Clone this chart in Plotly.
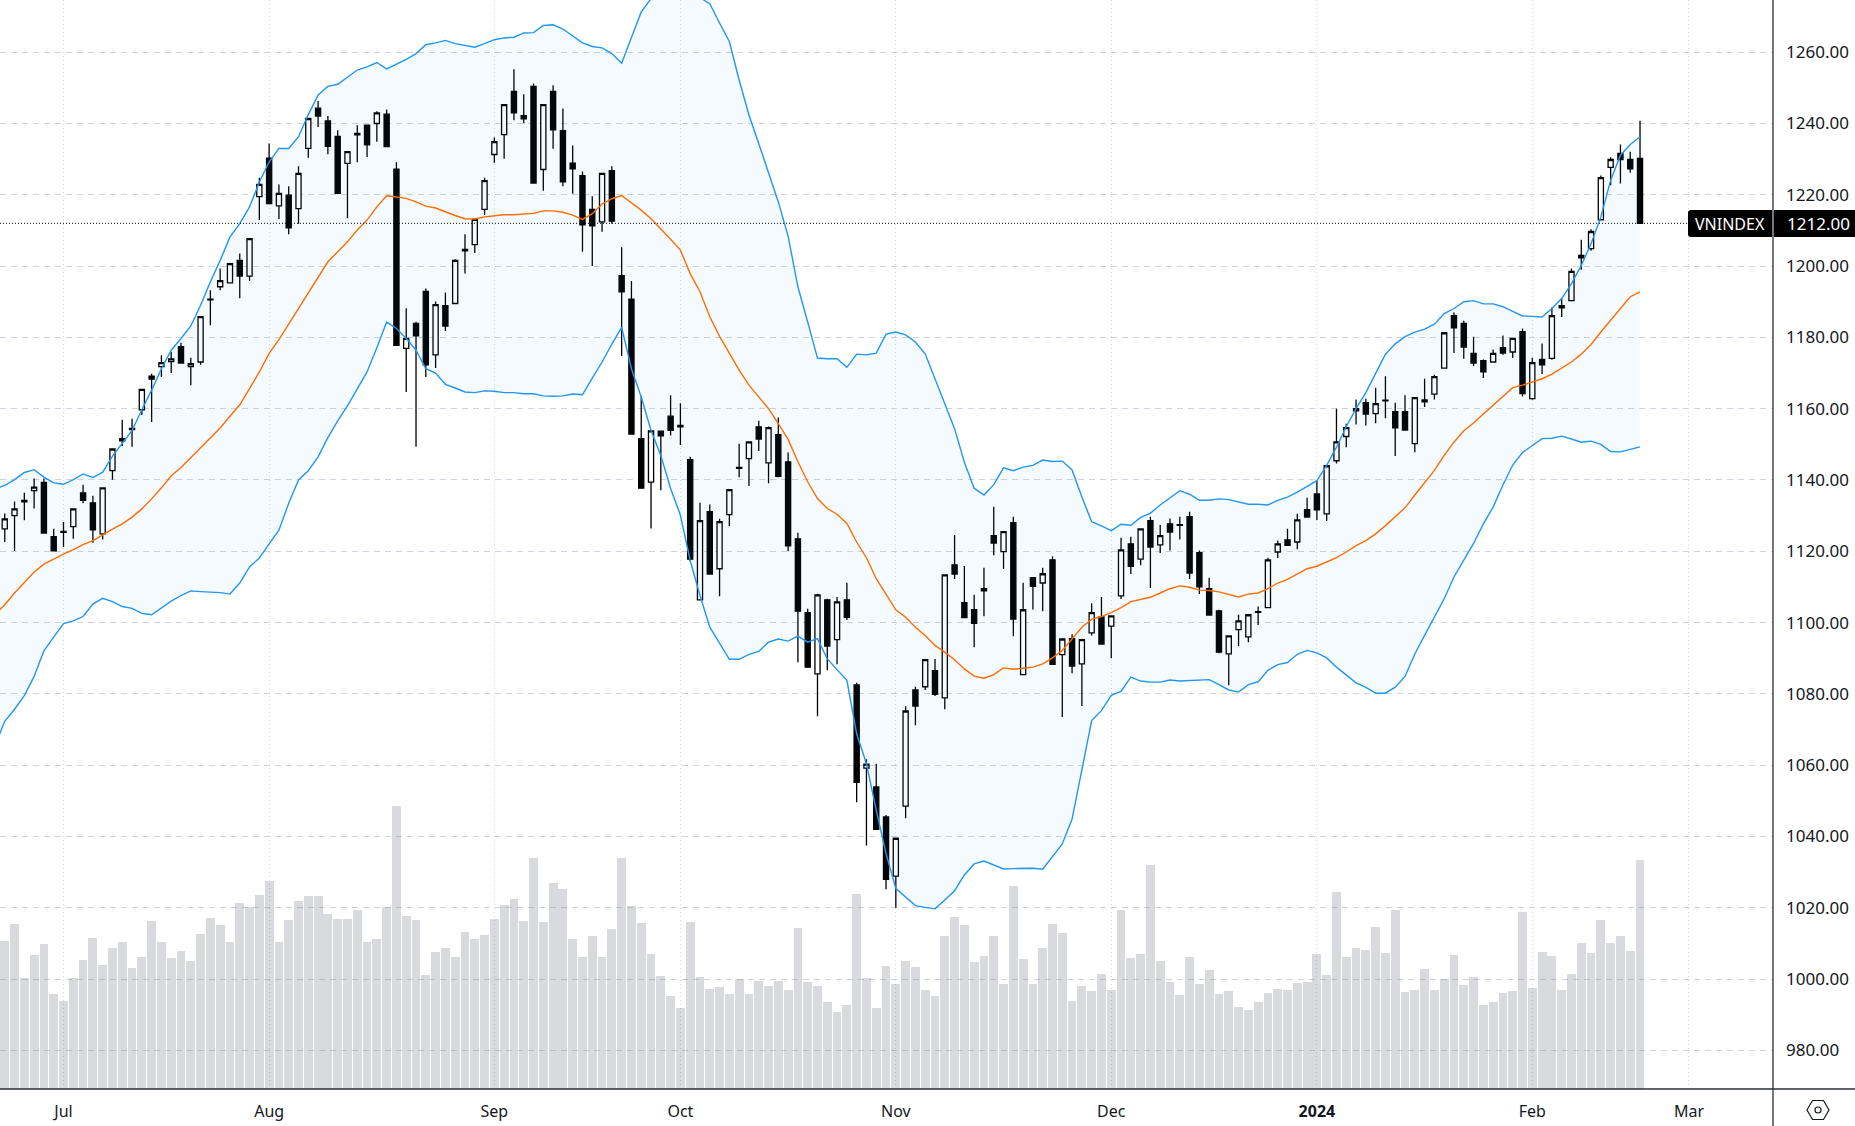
import plotly.graph_objects as go

# trading-session index (0 = first session of July 2023), first visible session is -6
sessions = list(range(-6, 162))
band_sessions = list(range(-7, 162))

opens = [
 1126.3,1130.0,1134.3,1137.0,1139.3,1124.1,1125.3,1126.9,1136.4,1133.6,
 1124.9,1142.6,1151.0,1154.5,1159.7,1169.1,1171.8,1173.2,1177.4,1171.8,
 1173.1,1190.5,1194.2,1195.3,1201.6,1197.2,1219.5,1230.3,1216.9,1219.9,
 1216.1,1233.0,1244.3,1240.7,1236.4,1228.8,1237.2,1239.5,1240.0,1242.6,
 1227.2,1176.9,1183.9,1192.9,1175.1,1188.9,1189.5,1204.7,1206.0,1215.9,
 1231.3,1236.9,1249.0,1242.2,1250.4,1227.1,1249.0,1238.0,1228.9,1225.4,
 1215.9,1212.4,1226.8,1197.3,1190.7,1151.6,1139.4,1153.7,1157.9,1155.3,
 1145.7,1106.4,1131.1,1115.1,1130.3,1143.3,1146.0,1154.9,1144.8,1152.7,
 1145.1,1123.5,1102.8,1085.6,1106.4,1095.2,1106.4,1082.5,1059.2,1053.9,
 1045.5,1028.9,1048.5,1081.1,1082.0,1086.5,1078.9,1116.2,1105.6,1103.6,
 1108.9,1124.4,1119.9,1128.0,1085.4,1112.6,1111.1,1117.6,1091.0,1095.5,
 1088.4,1097.1,1101.6,1099.0,1107.5,1122.1,1117.8,1128.6,1121.8,1127.7,
 1127.3,1129.7,1119.6,1109.5,1103.3,1091.2,1098.0,1096.0,1102.9,1104.2,
 1119.8,1123.2,1122.6,1131.7,1136.1,1130.5,1145.4,1152.2,1159.4,1161.7,
 1158.6,1162.2,1159.2,1159.2,1150.2,1161.9,1164.1,1171.4,1186.1,1183.9,
 1175.5,1173.5,1173.1,1177.1,1175.9,1181.6,1162.8,1173.8,1174.1,1188.9,
 1190.3,1203.0,1204.9,1213.0,1227.7,1231.6,1229.9,1230.2]
highs = [
 1130.6,1134.0,1136.4,1140.4,1140.4,1126.3,1128.2,1131.9,1138.7,1135.6,
 1137.8,1148.7,1156.9,1157.2,1165.4,1169.8,1175.0,1175.9,1178.5,1174.3,
 1185.8,1193.2,1199.3,1200.7,1203.5,1207.7,1224.8,1234.4,1222.9,1222.4,
 1228.0,1241.4,1246.3,1242.1,1238.1,1232.1,1239.5,1239.5,1243.4,1243.9,
 1229.1,1188.2,1184.4,1193.7,1190.1,1192.6,1201.9,1208.9,1213.4,1224.8,
 1236.1,1245.3,1255.2,1248.2,1251.2,1245.3,1250.7,1244.2,1233.8,1226.5,
 1219.6,1226.0,1228.0,1205.3,1195.8,1163.4,1153.8,1153.9,1163.8,1161.5,
 1146.5,1133.6,1133.1,1129.1,1137.3,1150.2,1150.7,1156.6,1155.0,1157.5,
 1147.7,1125.2,1103.9,1108.1,1106.7,1107.2,1111.2,1083.1,1061.7,1060.4,
 1046.0,1039.5,1076.5,1082.0,1089.6,1089.8,1113.4,1124.6,1115.9,1107.8,
 1115.4,1132.5,1125.5,1129.7,1111.2,1112.6,1115.4,1118.6,1095.4,1096.7,
 1095.2,1105.4,1107.2,1102.0,1123.8,1124.1,1126.3,1129.7,1127.4,1129.2,
 1129.7,1131.1,1120.2,1112.6,1103.6,1096.3,1102.2,1102.2,1104.5,1118.2,
 1123.0,1126.3,1130.5,1135.0,1139.8,1144.0,1160.0,1155.8,1162.6,1162.8,
 1165.9,1169.1,1161.7,1163.8,1163.1,1168.4,1169.5,1181.3,1187.0,1184.7,
 1180.2,1173.8,1176.6,1180.5,1179.9,1182.5,1174.3,1178.3,1188.4,1190.9,
 1199.3,1207.4,1210.3,1225.4,1230.5,1234.1,1232.1,1240.8]
lows = [
 1122.6,1120.1,1128.7,1132.0,1125.0,1120.0,1121.2,1123.5,1133.5,1122.4,
 1123.3,1140.1,1149.5,1149.3,1158.2,1156.3,1168.9,1170.0,1172.8,1166.6,
 1172.3,1183.4,1193.2,1195.3,1191.0,1195.8,1212.9,1217.5,1213.2,1208.9,
 1211.9,1230.4,1239.0,1231.4,1220.4,1213.4,1229.1,1230.6,1234.9,1233.5,
 1177.8,1164.7,1149.3,1168.9,1171.4,1181.8,1189.5,1197.9,1203.7,1214.3,
 1229.0,1230.1,1240.9,1240.1,1223.3,1221.1,1232.9,1222.4,1220.3,1204.0,
 1200.0,1209.6,1211.9,1174.8,1152.9,1137.7,1126.4,1137.1,1152.5,1149.8,
 1117.2,1106.4,1113.6,1107.4,1127.1,1140.8,1138.3,1148.1,1139.1,1140.8,
 1120.0,1088.9,1087.5,1073.7,1086.6,1088.3,1100.7,1049.6,1037.5,1042.0,
 1025.2,1020.0,1045.1,1071.2,1081.1,1079.4,1075.7,1112.2,1101.2,1093.1,
 1101.8,1118.9,1115.0,1096.2,1085.4,1103.7,1103.2,1088.3,1073.5,1085.8,
 1076.6,1096.4,1094.0,1090.0,1106.6,1113.6,1116.1,1109.7,1119.5,1120.2,
 1123.3,1112.2,1108.0,1102.1,1091.4,1082.4,1093.4,1094.5,1099.3,1104.2,
 1118.1,1121.7,1120.6,1129.6,1128.8,1128.5,1144.6,1149.2,1155.6,1155.3,
 1155.9,1157.3,1146.7,1154.0,1147.8,1160.5,1162.6,1171.4,1175.6,1174.0,
 1172.0,1168.6,1173.1,1175.1,1174.2,1163.4,1162.5,1169.7,1173.7,1185.7,
 1190.3,1199.0,1204.3,1213.0,1222.7,1223.2,1226.2,1212.0]
closes = [
 1129.1,1131.9,1133.9,1138.0,1125.1,1120.1,1125.6,1131.9,1134.3,1126.0,
 1137.8,1148.7,1151.6,1154.1,1165.4,1168.3,1172.9,1174.0,1172.8,1172.6,
 1185.8,1190.7,1195.9,1200.7,1197.2,1207.7,1222.9,1217.5,1220.4,1210.7,
 1226.0,1241.4,1242.1,1233.6,1220.4,1232.1,1236.8,1234.0,1243.0,1233.5,
 1177.8,1179.7,1180.4,1172.3,1189.2,1183.2,1201.6,1204.3,1213.1,1224.0,
 1234.9,1245.3,1243.0,1241.3,1223.3,1245.3,1238.2,1223.6,1227.3,1211.6,
 1211.3,1226.0,1212.6,1192.8,1152.9,1137.7,1153.8,1152.4,1153.9,1154.9,
 1117.8,1128.6,1113.6,1128.3,1137.3,1143.5,1150.7,1151.5,1154.7,1141.0,
 1121.5,1103.2,1087.5,1107.8,1093.4,1105.8,1101.5,1055.2,1060.3,1042.0,
 1028.0,1039.5,1075.2,1076.6,1089.6,1079.9,1113.4,1113.6,1101.4,1099.8,
 1109.5,1122.3,1125.5,1101.0,1103.6,1110.2,1113.7,1088.3,1095.4,1087.8,
 1095.2,1102.8,1094.0,1101.9,1120.4,1115.8,1126.3,1121.2,1124.4,1125.4,
 1127.5,1113.9,1110.0,1102.1,1091.7,1096.3,1100.5,1102.2,1103.1,1117.6,
 1122.1,1121.7,1128.8,1129.6,1131.6,1144.0,1150.7,1154.7,1160.0,1158.5,
 1161.4,1162.4,1154.6,1154.0,1163.1,1162.5,1169.0,1181.3,1182.7,1177.3,
 1172.8,1170.3,1175.5,1175.6,1179.7,1164.2,1172.9,1172.3,1186.1,1188.3,
 1198.5,1202.3,1209.7,1224.8,1229.9,1229.9,1227.3,1212.0]
volumes = [
 445,496,333,403,436,286,265,333,388,454,
 373,424,442,364,397,505,442,394,415,385,
 466,514,493,442,559,546,583,625,442,508,
 565,580,580,526,511,511,538,442,451,547,
 850,520,508,343,412,424,397,472,451,463,
 511,553,571,505,694,502,619,601,451,397,
 460,397,481,694,550,499,406,340,280,244,
 502,337,301,307,286,331,286,325,310,325,
 298,484,322,310,262,232,253,586,334,244,
 370,316,385,367,298,280,460,517,493,382,
 400,460,316,610,391,316,424,496,469,265,
 310,295,346,298,538,394,406,673,385,322,
 283,397,316,358,286,295,247,238,262,289,
 301,298,319,322,406,343,592,397,424,418,
 487,409,538,292,298,361,298,331,403,313,
 337,253,262,289,295,532,304,412,400,298,
 346,439,409,508,439,460,415,688]
band_upper = [
 1137.5,1138.5,1140.1,1142.1,1142.9,1140.8,1139.2,1138.8,1140.1,1141.7,
 1140.7,1142.2,1146.7,1150.2,1153.9,1159.7,1165.2,1171.2,1176.4,1179.7,
 1183.2,1189.0,1195.6,1201.6,1208.2,1211.9,1216.6,1223.6,1229.2,1233.0,
 1233.0,1236.3,1242.5,1248.0,1250.4,1251.0,1252.9,1255.0,1255.9,1257.1,
 1255.3,1256.6,1258.0,1259.6,1262.1,1262.6,1263.3,1262.4,1261.8,1261.4,
 1262.4,1263.5,1264.0,1264.2,1265.4,1265.5,1267.5,1267.7,1266.5,1264.6,
 1262.6,1261.6,1261.2,1259.6,1256.9,1264.1,1271.3,1275.0,1277.0,1278.0,
 1278.0,1277.0,1275.2,1273.6,1268.2,1263.0,1252.2,1242.4,1234.4,1226.4,
 1218.0,1208.4,1194.2,1184.3,1174.2,1174.0,1174.0,1171.6,1175.3,1175.1,
 1175.6,1180.9,1181.5,1180.7,1178.7,1175.4,1168.4,1161.4,1154.4,1145.0,
 1137.7,1135.8,1138.7,1143.4,1142.6,1143.6,1144.1,1145.6,1145.2,1145.3,
 1142.8,1135.2,1128.3,1127.1,1125.8,1127.6,1127.3,1129.5,1130.7,1133.0,
 1135.0,1137.0,1136.0,1134.3,1134.3,1134.7,1134.5,1133.9,1133.2,1133.2,
 1133.0,1134.3,1135.2,1136.6,1138.2,1139.8,1144.1,1149.2,1155.0,1160.0,
 1164.5,1170.1,1175.3,1178.2,1180.2,1181.5,1182.3,1183.7,1186.7,1188.1,
 1190.0,1190.3,1189.4,1189.4,1188.6,1187.3,1186.0,1185.9,1185.7,1188.1,
 1190.9,1195.1,1200.2,1206.3,1213.8,1224.1,1231.1,1234.1,1236.3]
band_middle = [
 1102.2,1105.0,1108.3,1111.4,1114.2,1116.4,1117.9,1119.2,1120.5,1121.9,
 1123.0,1124.7,1126.2,1127.7,1129.6,1131.9,1134.7,1137.8,1141.2,1143.5,
 1146.3,1149.0,1151.8,1154.6,1157.9,1161.1,1165.6,1170.3,1175.5,1179.4,
 1183.7,1188.1,1192.3,1197.0,1201.2,1204.0,1206.8,1210.1,1212.9,1216.6,
 1219.7,1219.4,1219.0,1218.0,1216.8,1216.3,1215.2,1214.2,1213.3,1213.2,
 1213.8,1214.2,1214.4,1214.4,1214.6,1214.8,1215.5,1215.5,1215.1,1214.3,
 1213.1,1214.7,1217.4,1218.9,1219.8,1217.8,1215.7,1213.3,1210.5,1207.5,
 1204.5,1197.9,1192.8,1185.8,1180.3,1175.5,1170.8,1166.6,1163.3,1160.0,
 1155.8,1151.4,1145.1,1139.5,1134.8,1132.0,1130.4,1127.8,1122.6,1118.2,
 1112.3,1107.8,1103.6,1101.5,1098.7,1096.4,1093.6,1091.7,1089.6,1087.0,
 1085.0,1084.4,1085.4,1087.3,1086.9,1087.2,1087.5,1088.4,1090.1,1092.2,
 1095.5,1098.7,1100.9,1101.7,1102.8,1104.2,1105.9,1106.5,1107.1,1108.3,
 1109.5,1110.3,1109.9,1109.1,1109.0,1108.6,1107.8,1107.2,1108.0,1108.3,
 1109.5,1111.1,1112.1,1113.7,1115.1,1115.8,1117.0,1118.2,1119.8,1121.6,
 1123.0,1124.9,1127.2,1129.6,1132.2,1135.8,1139.4,1142.7,1146.9,1150.6,
 1153.8,1156.0,1158.5,1160.9,1163.5,1165.9,1166.6,1167.5,1168.4,1169.7,
 1171.4,1173.1,1175.3,1178.0,1181.5,1184.8,1188.1,1191.4,1192.8]
band_lower = [
 1065.5,1072.3,1075.7,1079.5,1084.9,1092.1,1095.9,1099.7,1100.5,1101.7,
 1105.2,1106.8,1105.9,1104.5,1104.0,1102.6,1102.2,1104.1,1106.0,1107.6,
 1108.9,1108.7,1108.6,1108.4,1108.0,1111.1,1115.6,1118.1,1122.1,1125.9,
 1133.5,1140.0,1142.6,1146.5,1151.9,1156.6,1160.8,1165.6,1170.3,1177.1,
 1184.3,1182.5,1179.7,1176.4,1171.2,1170.0,1166.8,1165.8,1164.7,1164.5,
 1165.0,1164.9,1164.5,1164.5,1164.2,1164.2,1163.6,1163.5,1163.6,1164.1,
 1163.9,1168.6,1173.1,1178.1,1182.8,1171.2,1163.3,1153.9,1146.9,1137.6,
 1130.1,1117.4,1107.6,1098.7,1094.0,1089.7,1089.7,1091.1,1091.9,1094.5,
 1095.4,1094.8,1096.2,1094.5,1095.5,1089.8,1086.8,1083.8,1068.8,1060.4,
 1047.3,1035.2,1025.4,1023.0,1020.6,1020.1,1019.7,1022.2,1024.8,1029.2,
 1032.3,1033.1,1032.0,1030.9,1031.0,1031.1,1031.1,1030.8,1034.2,1037.9,
 1044.9,1058.5,1072.5,1075.3,1079.6,1080.7,1084.7,1083.6,1083.3,1083.3,
 1083.9,1083.6,1083.8,1084.0,1084.0,1082.6,1081.1,1080.5,1082.6,1083.4,
 1086.6,1088.2,1088.8,1091.1,1092.2,1091.5,1090.1,1087.5,1085.4,1083.1,
 1081.8,1080.2,1080.2,1081.9,1084.9,1091.2,1096.4,1101.5,1106.7,1112.8,
 1117.5,1122.2,1127.7,1132.4,1138.6,1144.2,1147.7,1149.6,1151.6,1151.7,
 1152.3,1151.5,1150.6,1150.9,1150.0,1148.0,1147.9,1148.6,1149.3]

month_ticks = [0, 21, 44, 63, 85, 107, 128, 150, 166]
month_labels = ["Jul", "Aug", "Sep", "Oct", "Nov", "Dec", "<b>2024</b>", "Feb", "Mar"]
price_ticks = list(range(980, 1280, 20))
price_labels = [f"{p}.00" for p in price_ticks]
last_price = 1212
symbol = "VNINDEX"

W, H = 1855, 1126
AX_X, AX_Y = 1773, 1089   # pixel position of the price axis / time axis
px = lambda v: v / W
py = lambda v: (H - v) / H

FONT = "Noto Sans"
TXT = "#131722"
AXC = "#2a2e39"

fig = go.Figure()
fig.add_trace(go.Bar(x=sessions, y=volumes, width=0.9, yaxis="y",
                     marker=dict(color="rgba(120,123,134,0.28)", line_width=0), showlegend=False))
fig.add_trace(go.Scatter(x=band_sessions, y=band_upper, yaxis="y2", mode="lines",
                         line=dict(color="#2196f3", width=1.4), showlegend=False))
fig.add_trace(go.Scatter(x=band_sessions, y=band_lower, yaxis="y2", mode="lines",
                         line=dict(color="#2196f3", width=1.4), fill="tonexty",
                         fillcolor="rgba(33,150,243,0.05)", showlegend=False))
fig.add_trace(go.Scatter(x=band_sessions, y=band_middle, yaxis="y2", mode="lines",
                         line=dict(color="#ff6d00", width=1.4), showlegend=False))
fig.add_trace(go.Candlestick(x=sessions, open=opens, high=highs, low=lows, close=closes, yaxis="y2",
                             increasing=dict(fillcolor="#ffffff", line=dict(color="#000000", width=1.3)),
                             decreasing=dict(fillcolor="#000000", line=dict(color="#000000", width=1.3)),
                             whiskerwidth=0, showlegend=False))

# VNINDEX tag: rounded on its left side only
tx0, tx1, ty0, ty1, r = 1688, 1772, 210, 237, 3
tag_path = (f"M {px(tx1):.5f},{py(ty0):.5f} L {px(tx0 + r):.5f},{py(ty0):.5f} "
            f"Q {px(tx0):.5f},{py(ty0):.5f} {px(tx0):.5f},{py(ty0 + r):.5f} "
            f"L {px(tx0):.5f},{py(ty1 - r):.5f} "
            f"Q {px(tx0):.5f},{py(ty1):.5f} {px(tx0 + r):.5f},{py(ty1):.5f} "
            f"L {px(tx1):.5f},{py(ty1):.5f} Z")

shapes = [
    dict(type="line", xref="paper", yref="y2", x0=0, x1=px(1688), y0=last_price, y1=last_price,
         line=dict(color="#000000", width=1, dash="1px,2px")),
    dict(type="line", xref="paper", yref="paper", x0=px(AX_X), x1=px(AX_X), y0=py(0), y1=py(H),
         line=dict(color=AXC, width=1.3)),
    dict(type="line", xref="paper", yref="paper", x0=0, x1=px(W), y0=py(AX_Y), y1=py(AX_Y),
         line=dict(color=AXC, width=1.3)),
    dict(type="path", xref="paper", yref="paper", path=tag_path, fillcolor="#000000", line_width=0),
    dict(type="rect", xref="paper", yref="paper", x0=px(1774), x1=px(1855), y0=py(237), y1=py(210),
         fillcolor="#000000", line_width=0),
]
# settings icon in the corner
cx, cy, rx, ry = 1818, 1110, 11, 9.5
hex_pts = [(cx - rx, cy), (cx - rx / 2, cy - ry), (cx + rx / 2, cy - ry),
           (cx + rx, cy), (cx + rx / 2, cy + ry), (cx - rx / 2, cy + ry)]
path = "M " + " L ".join(f"{px(a):.5f},{py(b):.5f}" for a, b in hex_pts) + " Z"
shapes.append(dict(type="path", xref="paper", yref="paper", path=path, line=dict(color=TXT, width=1.2)))
shapes.append(dict(type="circle", xref="paper", yref="paper", x0=px(cx - 3), x1=px(cx + 3),
                   y0=py(cy + 3), y1=py(cy - 3), line=dict(color=TXT, width=1.2)))

annotations = [
    dict(x=px(1730), y=py(223.5), xref="paper", yref="paper", text=symbol, showarrow=False,
         font=dict(family=FONT, size=16, color="#ffffff"), xanchor="center", yanchor="middle"),
    dict(x=px(1785), y=py(223.5), xref="paper", yref="paper", text=f"{last_price}.00", showarrow=False,
         font=dict(family=FONT, size=17, color="#ffffff"), xanchor="left", yanchor="middle"),
]

fig.update_layout(
    width=W, height=H, margin=dict(l=0, r=0, t=0, b=0), paper_bgcolor="#ffffff", plot_bgcolor="#ffffff",
    showlegend=False, boxgap=0.25, bargap=0, hovermode=False,
    xaxis=dict(domain=[0, AX_X / W], range=[-6.485, 174.58], rangeslider=dict(visible=False),
               tickmode="array", tickvals=month_ticks, ticktext=month_labels, showgrid=True,
               gridcolor="#d3d6df", griddash="1px,3px", gridwidth=1, zeroline=False, showline=False,
               ticks="", ticklabelstandoff=11, tickfont=dict(family=FONT, size=16, color=TXT)),
    yaxis=dict(domain=[(H - AX_Y) / H, 1], range=[0, 3267], visible=False, showgrid=False, zeroline=False),
    yaxis2=dict(domain=[(H - AX_Y) / H, 1], overlaying="y", side="right", anchor="x", range=[969.17, 1274.64],
                tickmode="array", tickvals=price_ticks, ticktext=price_labels, showgrid=True,
                gridcolor="#cfd2dd", griddash="6px,5px", gridwidth=1, zeroline=False, showline=False,
                ticks="", ticklabelstandoff=12, tickfont=dict(family=FONT, size=17, color=TXT)),
    shapes=shapes, annotations=annotations,
)

assert all(len(a) == len(sessions) for a in (opens, highs, lows, closes, volumes))
assert all(len(a) == len(band_sessions) for a in (band_upper, band_middle, band_lower))
fig.write_html("out.html", config=dict(displayModeBar=False),
               post_script="document.body.style.margin='0';document.documentElement.style.overflow='hidden';")
